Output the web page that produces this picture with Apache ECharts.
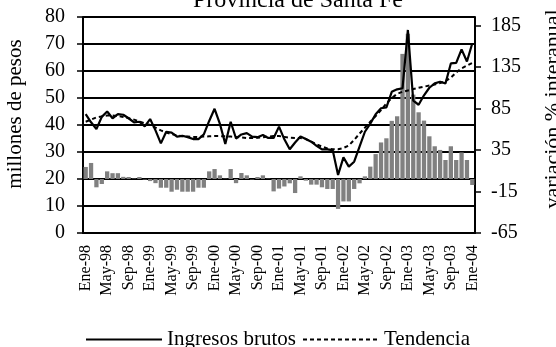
<!DOCTYPE html>
<html>
<head>
<meta charset="utf-8">
<script src="https://cdn.jsdelivr.net/npm/echarts@6/dist/echarts.min.js"></script>
<style>
  html, body { margin: 0; padding: 0; background: #fff; }
  #chart { width: 556px; height: 347px; }
</style>
</head>
<body>
<div id="chart"></div>
<script>
// meses y años (Ene-98 .. Ene-04)
var meses = ['Ene', 'Feb', 'Mar', 'Abr', 'May', 'Jun', 'Jul', 'Ago', 'Sep', 'Oct', 'Nov', 'Dic'];
var anios = ['98', '99', '00', '01', '02', '03', '04'];

// millones de pesos
var ingresosBrutos = [
  44, 41, 38.5, 43, 45, 42.5, 44, 43.8, 42.5, 41, 41.2, 39.5,
  42.2, 38, 33.2, 37.5, 37.2, 35.7, 36, 35.5, 34.8, 34.8, 36.5, 41.5,
  46, 40.4, 33, 41.2, 35, 36.5, 37, 35.7, 35.5, 36.3, 35.2, 35.2,
  39.4, 34.7, 31, 33.5, 35.7, 34.8, 33.8, 32.3, 31, 31, 30.7, 21.5,
  28, 24.6, 26.4, 32, 37.5, 40.5, 44, 46.2, 46.5, 52.3, 53.2, 53.6,
  75.2, 49, 47.5, 51, 53.8, 55.4, 56, 55.4, 62.8, 63, 68, 63.5,
  70.3
];
var tendencia = [
  41.2, 42, 42.8, 43.2, 43.5, 43.5, 43.3, 43, 42.5, 42, 41.3, 40.6,
  40, 39, 38, 37.2, 36.6, 36.2, 35.8, 35.7, 35.6, 35.6, 35.7, 35.8,
  35.9, 35.9, 35.8, 35.7, 35.6, 35.4, 35.2, 35.2, 35.3, 35.5, 35.7, 35.9,
  35.9, 35.6, 35.3, 35.2, 35.2, 34.8, 33.8, 32.8, 32, 31.3, 31, 31,
  31.5, 32.4, 34.5, 36.8, 39, 41.2, 43.3, 45.5, 48, 50, 51.5, 52.3,
  52.8, 53.3, 53.8, 54.2, 54.6, 55, 55.5, 56.3, 57.5, 59.5, 61, 62,
  63
];
// variación % interanual
var variacion = [
  14.5, 19.3, -10, -6, 9.2, 7, 7, 2.6, 2.4, 0.5, 2.4, -0.6,
  -2.5, -5, -10.5, -10.5, -15.3, -12.9, -15.3, -15.3, -15.3, -10.5, -10.5, 9.2,
  12, 4.4, 0.4, 12, -5, 7.2, 4.4, -0.6, 2.4, 4.4, 0.4, -14.9,
  -11.5, -9, -5.2, -16.9, 3.2, -2, -6.8, -6.8, -10, -12, -12, -36,
  -27, -27, -12, -5.2, 3.2, 14.9, 30, 44, 49, 70, 75.5, 150.6,
  174.7, 101.6, 80.3, 70.3, 51.4, 39.4, 35, 22.9, 39.4, 22.9, 32, 22.9,
  -7.2
];

var categorias = [];
for (var a = 0; a < anios.length; a++) {
  for (var m = 0; m < meses.length; m++) {
    if (categorias.length < ingresosBrutos.length) categorias.push(meses[m] + '-' + anios[a]);
  }
}

var serif = '"Liberation Serif", "Times New Roman", serif';

var legendBase = {
  top: 329,
  padding: 0,
  itemHeight: 14,
  itemWidth: 76,
  itemStyle: { opacity: 0 },
  textStyle: { fontFamily: serif, fontSize: 21, color: '#000' }
};

var option = {
  animation: false,
  backgroundColor: '#fff',
  title: {
    text: 'Provincia de Santa Fe',
    left: 188,
    top: -16,
    textStyle: { fontFamily: serif, fontSize: 24, fontWeight: 'normal', color: '#000' }
  },
  legend: [
    Object.assign({}, legendBase, { data: ['Ingresos brutos'], left: 85 }),
    Object.assign({}, legendBase, { data: ['Tendencia'], left: 302 })
  ],
  grid: { left: 83, right: 81, top: 17, bottom: 114, outerBoundsMode: 'none' },
  xAxis: {
    type: 'category',
    data: categorias,
    boundaryGap: true,
    axisLine: { onZero: false, lineStyle: { color: '#000', width: 2 } },
    axisTick: { interval: 0, length: 5, lineStyle: { color: '#000', width: 1.5 } },
    axisLabel: {
      interval: 3, rotate: 90, margin: 12,
      fontFamily: serif, fontSize: 16, color: '#000'
    },
    splitLine: { show: false }
  },
  yAxis: [
    {
      type: 'value',
      min: 0, max: 80, interval: 10,
      name: 'millones de pesos',
      nameLocation: 'middle',
      nameRotate: 90,
      nameGap: 57,
      nameTextStyle: { fontFamily: serif, fontSize: 21, color: '#000', padding: [0, 0, 0, 22] },
      axisLine: { show: true, lineStyle: { color: '#000', width: 2 } },
      axisTick: { show: true, length: 6, lineStyle: { color: '#000', width: 1.5 } },
      axisLabel: { margin: 18, fontFamily: serif, fontSize: 20, color: '#000' },
      splitLine: { show: true, lineStyle: { color: '#000', width: 2 } }
    },
    {
      type: 'value',
      min: -65, max: 195, interval: 50,
      position: 'right',
      name: 'variación % interanual',
      nameLocation: 'middle',
      nameRotate: 90,
      nameGap: 67,
      nameTextStyle: { fontFamily: serif, fontSize: 22, color: '#000', padding: [0, 0, 0, 32] },
      axisLine: { show: true, lineStyle: { color: '#000', width: 2 } },
      axisTick: { show: true, length: 6, lineStyle: { color: '#000', width: 1.5 } },
      axisLabel: { margin: 16, showMaxLabel: false, fontFamily: serif, fontSize: 20, color: '#000' },
      splitLine: { show: false }
    }
  ],
  series: [
    {
      name: 'Variación',
      type: 'bar',
      yAxisIndex: 1,
      data: variacion,
      barCategoryGap: '20%',
      itemStyle: { color: '#808080' },
      z: 1
    },
    {
      name: 'Tendencia',
      type: 'line',
      yAxisIndex: 0,
      data: tendencia,
      symbol: 'none',
      lineStyle: { color: '#000', width: 2, type: [4, 3] },
      itemStyle: { color: '#000' },
      z: 3
    },
    {
      name: 'Ingresos brutos',
      type: 'line',
      yAxisIndex: 0,
      data: ingresosBrutos,
      symbol: 'none',
      lineStyle: { color: '#000', width: 2.2 },
      itemStyle: { color: '#000' },
      z: 4
    }
  ]
};

var chart = echarts.init(document.getElementById('chart'));
chart.setOption(option);
</script>
</body>
</html>
